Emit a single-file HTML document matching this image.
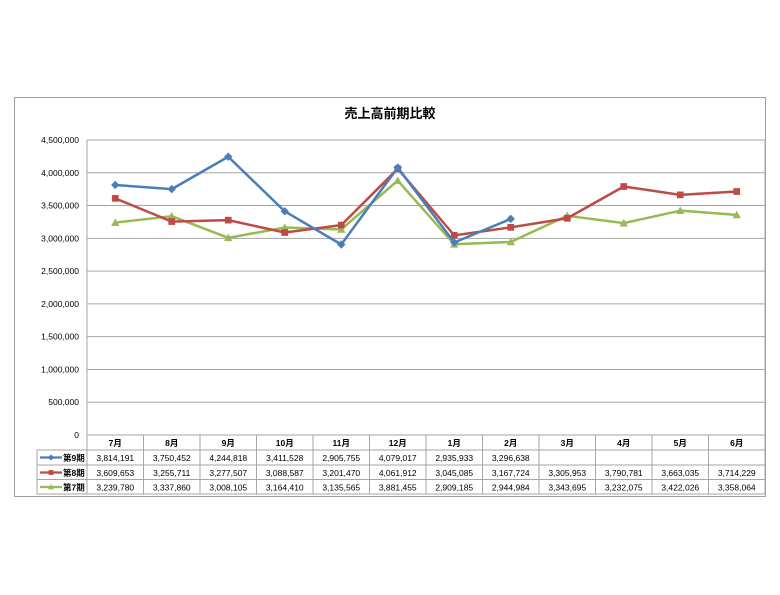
<!DOCTYPE html>
<html><head><meta charset="utf-8"><style>
body{margin:0;background:#fff;width:780px;height:595px;overflow:hidden}
svg{position:absolute;left:0;top:0}
text{font-family:"Liberation Sans","Noto Sans CJK JP",sans-serif;fill:#000}
</style></head><body>
<svg width="780" height="595" xmlns="http://www.w3.org/2000/svg" id="s"></svg>
<script>
const s=document.getElementById('s');
let h='';
h+='<rect x="14.5" y="97.5" width="751" height="399" fill="#fff" stroke="#a0a0a0"/>';
h+='<text x="390" y="118" font-size="13" font-weight="bold" text-anchor="middle">売上高前期比較</text>';
const L=87,R=765,T=140,B=435,max=4500000;
const Y=v=>B-v/max*(B-T);
for(let i=0;i<=9;i++){const y=Y(i*500000);
 h+=`<line x1="${L}" x2="${R}" y1="${y}" y2="${y}" stroke="#a6a6a6" stroke-width="1"/>`;
 h+=`<text x="79" y="${y+3}" font-size="8.5" text-anchor="end">${i==0?'0':(i*500000).toLocaleString('en-US')}</text>`;}
h+=`<line x1="${L}" x2="${L}" y1="${T}" y2="${B}" stroke="#a6a6a6"/>`;
h+=`<line x1="${R}" x2="${R}" y1="${T}" y2="494" stroke="#a6a6a6"/>`;
const m=['7月','8月','9月','10月','11月','12月','1月','2月','3月','4月','5月','6月'];
const cw=(R-L)/12;
const d9=[3814191,3750452,4244818,3411528,2905755,4079017,2935933,3296638];
const d8=[3609653,3255711,3277507,3088587,3201470,4061912,3045085,3167724,3305953,3790781,3663035,3714229];
const d7=[3239780,3337860,3008105,3164410,3135565,3881455,2909185,2944984,3343695,3232075,3422026,3358064];
// table
const rows=[435,450,465,479.5,494];
rows.forEach((y,i)=>{h+=`<line x1="${i==0?L:37}" x2="${R}" y1="${y}" y2="${y}" stroke="#a6a6a6"/>`});
h+=`<line x1="37" x2="37" y1="450" y2="494" stroke="#a6a6a6"/>`;
for(let i=0;i<=12;i++){const x=L+i*cw;h+=`<line x1="${x}" x2="${x}" y1="435" y2="494" stroke="#a6a6a6"/>`;}
m.forEach((t,i)=>h+=`<text x="${L+cw*(i+.5)}" y="446" font-size="8.5" font-weight="bold" text-anchor="middle">${t}</text>`);
const ser=[['第9期',d9,'#4a7ebb','d'],['第8期',d8,'#be4b48','s'],['第7期',d7,'#98b954','t']];
function mk(x,y,t,c,sz){
 if(t=='d')return `<polygon points="${x},${y-sz} ${x+sz},${y} ${x},${y+sz} ${x-sz},${y}" fill="${c}"/>`;
 if(t=='s')return `<rect x="${x-sz*.8}" y="${y-sz*.8}" width="${sz*1.6}" height="${sz*1.6}" fill="${c}"/>`;
 return `<polygon points="${x},${y-sz} ${x+sz},${y+sz*.8} ${x-sz},${y+sz*.8}" fill="${c}"/>`;}
ser.forEach(([n,d,c,t],r)=>{
 const ty=rows[r+1]+11;
 h+=`<line x1="40" x2="62" y1="${ty-3.5}" y2="${ty-3.5}" stroke="${c}" stroke-width="2.2"/>`+mk(51,ty-3.5,t,c,3);
 h+=`<text x="63" y="${ty}" font-size="8.5" font-weight="bold">${n}</text>`;
 d.forEach((v,i)=>h+=`<text x="${L+cw*(i+.5)}" y="${ty}" font-size="8.5" text-anchor="middle">${v.toLocaleString('en-US')}</text>`);
});
[2,1,0].forEach(k=>{const [n,d,c,t]=ser[k];
 const pts=d.map((v,i)=>[L+cw*(i+.5),Y(v)]);
 h+=`<polyline points="${pts.map(p=>p.join(',')).join(' ')}" fill="none" stroke="${c}" stroke-width="2.5" stroke-linejoin="round"/>`;
 pts.forEach(p=>h+=mk(p[0],p[1],t,c,4.2));});
s.innerHTML=h;
</script>
</body></html>
